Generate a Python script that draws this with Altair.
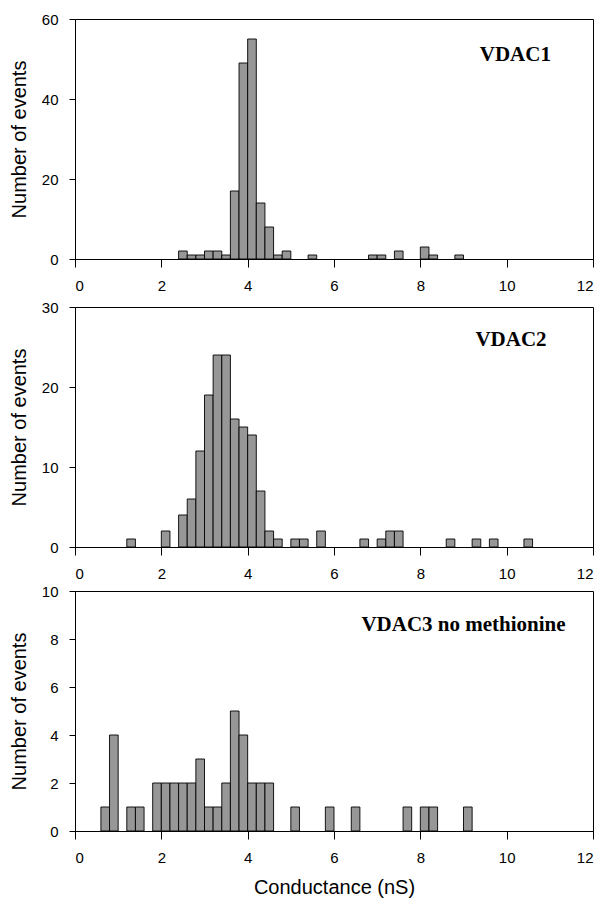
import altair as alt
import pandas as pd

# Conductance histograms, 0.2 nS bins (bin start -> number of events)
BIN_WIDTH = 0.2

vdac1_bins = [2.4, 2.6, 2.8, 3.0, 3.2, 3.4, 3.6, 3.8, 4.0, 4.2, 4.4, 4.6, 4.8,
              5.4, 6.8, 7.0, 7.4, 8.0, 8.2, 8.8]
vdac1_counts = [2, 1, 1, 2, 2, 1, 17, 49, 55, 14, 8, 1, 2,
                1, 1, 1, 2, 3, 1, 1]

vdac2_bins = [1.2, 2.0, 2.4, 2.6, 2.8, 3.0, 3.2, 3.4, 3.6, 3.8, 4.0, 4.2, 4.4,
              4.6, 5.0, 5.2, 5.6, 6.6, 7.0, 7.2, 7.4, 8.6, 9.2, 9.6, 10.4]
vdac2_counts = [1, 2, 4, 6, 12, 19, 24, 24, 16, 15, 14, 7, 2,
                1, 1, 1, 2, 1, 1, 2, 2, 1, 1, 1, 1]

vdac3_bins = [0.6, 0.8, 1.2, 1.4, 1.8, 2.0, 2.2, 2.4, 2.6, 2.8, 3.0, 3.2, 3.4,
              3.6, 3.8, 4.0, 4.2, 4.4, 5.0, 5.8, 6.4, 7.6, 8.0, 8.2, 9.0]
vdac3_counts = [1, 4, 1, 1, 2, 2, 2, 2, 2, 3, 1, 1, 2,
                5, 4, 2, 2, 2, 1, 1, 1, 1, 1, 1, 1]

panel_names = ["VDAC1", "VDAC2", "VDAC3 no methionine"]
panel_ymax = [60, 30, 10]
panel_ystep = [10, 5, 2]
# where each panel's name sits, in data units (conductance, events)
name_x = [10.2, 10.1, 9.0]
name_y = [49.5, 25.1, 8.35]

x_ticks = [0, 2, 4, 6, 8, 10, 12]

SANS = "Liberation Sans"
SERIF = "Liberation Serif"
W, H = 518, 240


def panel(bins, counts, ymax, ystep, name, nx, ny, last):
    df = pd.DataFrame({
        "start": bins,
        "end": [b + BIN_WIDTH for b in bins],
        "count": counts,
    })
    x_axis = alt.Axis(
        values=x_ticks, format="d", tickSize=8, labelPadding=11,
        labelFontSize=15, labelFont=SANS, labelColor="black",
        domainColor="black", tickColor="black", grid=False,
        title="Conductance (nS)" if last else None,
        titleFont=SANS, titleFontSize=20, titleFontWeight="normal",
        titleColor="black", titlePadding=12,
    )
    y_axis = alt.Axis(
        values=list(range(0, ymax + 1, ystep)), format="d",
        tickSize=6, labelPadding=11, labelFontSize=15, labelFont=SANS,
        labelColor="black", domainColor="black", tickColor="black",
        grid=False, title="Number of events", titleFont=SANS,
        titleFontSize=20, titleFontWeight="normal", titleColor="black",
        titlePadding=12,
    )
    bars = alt.Chart(df).mark_rect(
        fill="#979797", stroke="black", strokeWidth=0.9
    ).encode(
        x=alt.X("start:Q", scale=alt.Scale(domain=[0, 12], nice=False), axis=x_axis),
        x2="end:Q",
        y=alt.Y("count:Q", scale=alt.Scale(domain=[0, ymax], nice=False), axis=y_axis),
        y2=alt.datum(0),
    )
    lab = alt.Chart(pd.DataFrame({"x": [nx], "y": [ny], "t": [name]})).mark_text(
        font=SERIF, fontWeight="bold", fontSize=21, color="black",
        align="center", baseline="alphabetic",
    ).encode(x="x:Q", y="y:Q", text="t:N")
    return alt.layer(bars, lab).properties(width=W, height=H)


p1 = panel(vdac1_bins, vdac1_counts, panel_ymax[0], panel_ystep[0],
           panel_names[0], name_x[0], name_y[0], False)
p2 = panel(vdac2_bins, vdac2_counts, panel_ymax[1], panel_ystep[1],
           panel_names[1], name_x[1], name_y[1], False)
p3 = panel(vdac3_bins, vdac3_counts, panel_ymax[2], panel_ystep[2],
           panel_names[2], name_x[2], name_y[2], True)

chart = alt.vconcat(
    alt.vconcat(p1, p2, spacing=5),
    p3,
    spacing=1,
).properties(
    padding={"left": 8, "top": 11, "right": 4, "bottom": 0},
    background="white",
).configure_view(stroke="black", strokeWidth=1)

chart.save("out.html", embed_options={"renderer": "svg", "actions": False})
